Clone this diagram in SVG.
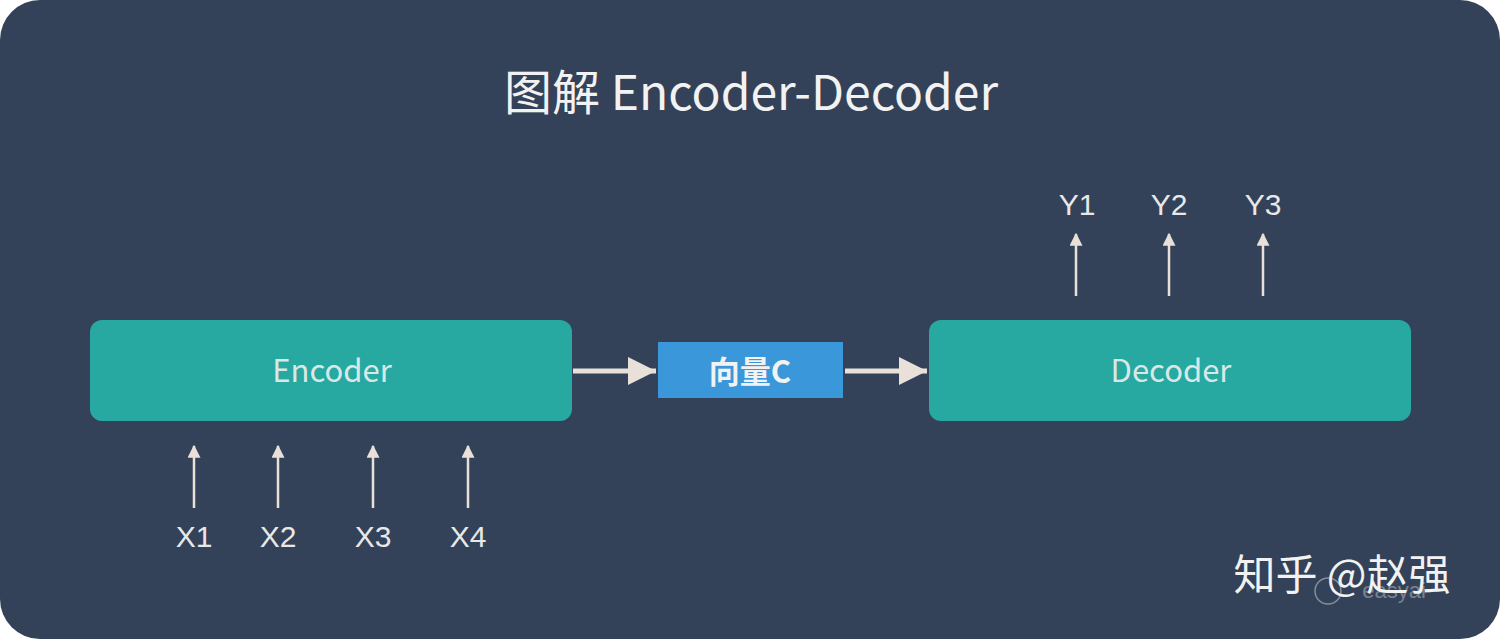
<svg xmlns="http://www.w3.org/2000/svg" width="1500" height="639" viewBox="0 0 1500 639">
<defs>
<style>
.t{font-family:"Noto Sans CJK SC","Liberation Sans",sans-serif;fill:#f2f2f2}
.lbl{font-family:"Liberation Sans",Arial,sans-serif;fill:#e8e8e8;font-size:30px;text-anchor:middle}
.box{fill:#27a9a1}
.thin{stroke:#e9e1d9;stroke-width:2.5;fill:none}
.thick{stroke:#e9e1d9;stroke-width:5;fill:none}
</style>
<marker id="ah" viewBox="0 0 10 10" refX="9" refY="5" markerWidth="14" markerHeight="13" orient="auto" markerUnits="userSpaceOnUse"><path d="M0,0L10,5L0,10z" fill="#e9e1d9"/></marker>
<marker id="ab" viewBox="0 0 10 10" refX="10" refY="5" markerWidth="28" markerHeight="28" orient="auto" markerUnits="userSpaceOnUse"><path d="M0,0L10,5L0,10z" fill="#e9e1d9"/></marker>
</defs>
<rect width="1500" height="639" fill="#ffffff"/>
<rect x="0" y="0" width="1500" height="639" rx="40" fill="#334258"/>
<text class="t" x="751" y="110" font-size="48" text-anchor="middle">图解 Encoder-Decoder</text>
<g id="encoder"><rect class="box" x="90" y="320" width="482" height="101" rx="12"/><text class="t" x="332" y="382" font-size="31" text-anchor="middle" fill-opacity="0.9">Encoder</text></g>
<g id="vector"><rect x="658" y="342" width="185" height="56" fill="#3a97d9"/><text class="t" x="750" y="383" font-size="31" text-anchor="middle" font-weight="bold">向量C</text></g>
<g id="decoder"><rect class="box" x="929" y="320" width="482" height="101" rx="12"/><text class="t" x="1171" y="382" font-size="31" text-anchor="middle" fill-opacity="0.9">Decoder</text></g>
<g id="connectors">
<path class="thick" d="M573,371H656" marker-end="url(#ab)"/>
<path class="thick" d="M845,371H927" marker-end="url(#ab)"/>
<path class="thin" d="M194,508V446" marker-end="url(#ah)"/>
<path class="thin" d="M278,508V446" marker-end="url(#ah)"/>
<path class="thin" d="M373,508V446" marker-end="url(#ah)"/>
<path class="thin" d="M468,508V446" marker-end="url(#ah)"/>
<path class="thin" d="M1076,296V234" marker-end="url(#ah)"/>
<path class="thin" d="M1169,296V234" marker-end="url(#ah)"/>
<path class="thin" d="M1263,296V234" marker-end="url(#ah)"/>
</g>
<g id="labels">
<text class="lbl" x="194" y="547">X1</text><text class="lbl" x="278" y="547">X2</text><text class="lbl" x="373" y="547">X3</text><text class="lbl" x="468" y="547">X4</text>
<text class="lbl" x="1077" y="215">Y1</text><text class="lbl" x="1169" y="215">Y2</text><text class="lbl" x="1263" y="215">Y3</text>
</g>
<g id="watermark">
<text x="1394" y="598" font-family="Liberation Sans,sans-serif" font-size="22" fill="#ffffff" fill-opacity="0.35" text-anchor="middle">easyai</text>
<circle cx="1328" cy="591" r="13" fill="none" stroke="#ffffff" stroke-opacity="0.4" stroke-width="1.5"/>
<text class="t" x="1342" y="590" font-size="42" text-anchor="middle" fill="#ffffff">知乎 @赵强</text>
</g>
</svg>
